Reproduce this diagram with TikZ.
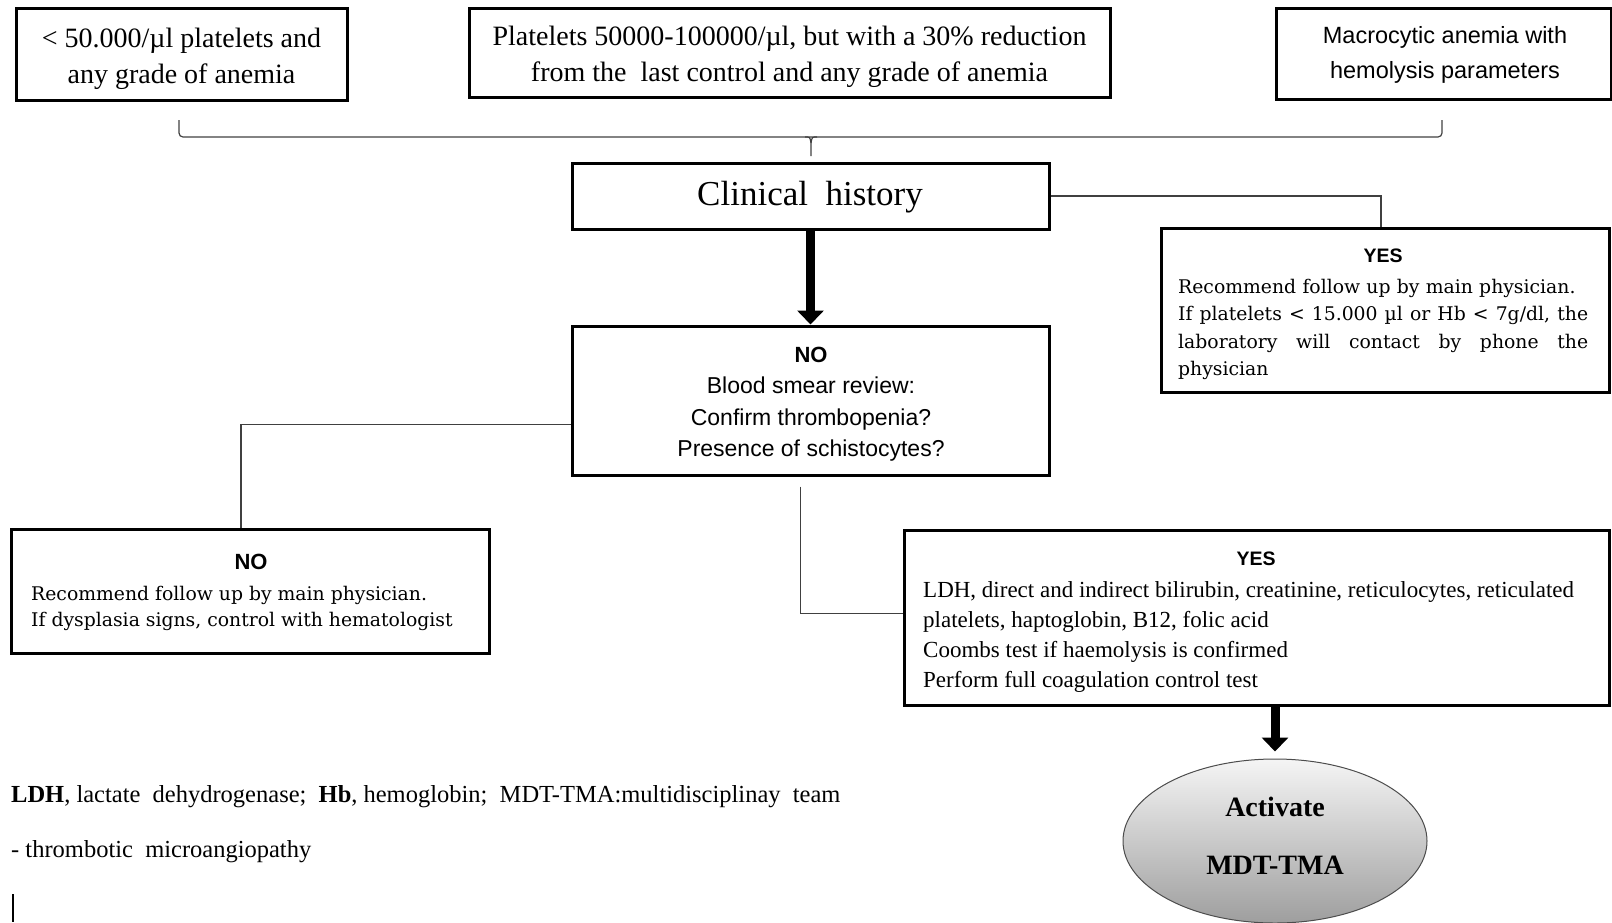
\documentclass[tikz,border=0pt]{standalone}
\usepackage{fontspec}
\setmainfont{Liberation Serif}
\newfontfamily\sansf{Liberation Sans}
\newfontfamily\slab{DejaVu Serif}
\usetikzlibrary{shapes.geometric,arrows.meta,calc}
\tikzset{
  box/.style={draw=black, line width=3pt, inner sep=0pt},
  conn/.style={draw=black!75, line width=1.3pt},
  thickarrow/.style={draw=black, line width=9pt, -{Triangle[width=26pt,length=14pt]}},
  txt/.style={inner sep=0pt},
}
\newcommand{\fullline}[1]{\makebox[410pt][s]{\spaceskip=.3333em plus 1fil\relax #1}}
\begin{document}
\begin{tikzpicture}[x=1pt,y=-1pt]
\useasboundingbox (0,0) rectangle (1612,922);
% boxes
\node[box, minimum width=331, minimum height=92] (b1) at (181.5,54) {};
\node[box, minimum width=641, minimum height=89] (b2) at (789.5,52.5) {};
\node[box, minimum width=335, minimum height=91] (b3) at (1443.5,53.5) {};
\node[box, minimum width=477, minimum height=66] (clin) at (810.5,196) {};
\node[box, minimum width=477, minimum height=149] (nobox) at (810.5,400.5) {};
\node[box, minimum width=448, minimum height=164] (yesr) at (1385,310) {};
\node[box, minimum width=478, minimum height=124] (nol) at (250,591) {};
\node[box, minimum width=705, minimum height=175] (yesb) at (1256.5,617.5) {};
\node[ellipse, draw=black!70, line width=1pt, minimum width=304, minimum height=164,
      top color=black!4, bottom color=black!38, inner sep=0pt] (ell) at (1275,841) {};
% texts
\node[txt, align=center, font=\fontsize{28}{36}\selectfont] (t1) at (181.5,59) {< 50.000/µl platelets and\\any grade of anemia};
\node[txt, align=center, font=\fontsize{28}{36}\selectfont] (t2) at (789.5,57) {Platelets 50000-100000/µl, but with a 30\% reduction\\from the\ \ last control and any grade of anemia};
\node[txt, align=center, font=\sansf\fontsize{23.5}{35}\selectfont] (t3) at (1445,55) {Macrocytic anemia with\\hemolysis parameters};
\node[txt, font=\fontsize{35}{40}\selectfont] (t4) at (810,197) {Clinical\ \ history};
\node[txt, align=center, font=\sansf\fontsize{23}{31.5}\selectfont] (t5) at (811,404) {{\fontsize{22}{24}\selectfont\bfseries NO}\\Blood smear review:\\Confirm thrombopenia?\\Presence of schistocytes?};
\node[txt, font=\sansf\bfseries\fontsize{19.5}{22}\selectfont] (t6) at (1383,256) {YES};
\node[txt, anchor=north west, text width=410, align=left, font=\slab\fontsize{18.8}{27.5}\selectfont] (t7) at (1178,279) {Recommend follow up by main physician.\\\fullline{If platelets < 15.000 µl or Hb < 7g/dl, the}\\\fullline{laboratory will contact by phone the}\\physician};
\node[txt, font=\sansf\bfseries\fontsize{22}{24}\selectfont] (t8) at (251,562) {NO};
\node[txt, anchor=north west, align=left, font=\slab\fontsize{18.8}{26}\selectfont] (t9) at (31,586) {Recommend follow up by main physician.\\If dysplasia signs, control with hematologist};
\node[txt, font=\sansf\bfseries\fontsize{19.5}{22}\selectfont] (t10) at (1256,559) {YES};
\node[txt, anchor=north west, align=left, font=\fontsize{23}{30.2}\selectfont] (t11) at (923,581) {LDH, direct and indirect bilirubin, creatinine, reticulocytes, reticulated\\platelets, haptoglobin, B12, folic acid\\Coombs test if haemolysis is confirmed\\Perform full coagulation control test};
\node[txt, align=center, font=\bfseries\fontsize{28}{58}\selectfont] (t12) at (1275,836) {Activate\\MDT-TMA};
\node[txt, anchor=base west, font=\fontsize{24.5}{24}\selectfont] (fn1) at (11,802) {\textbf{LDH}, lactate\ \ dehydrogenase;\ \ \textbf{Hb}, hemoglobin;\ \ MDT-TMA:multidisciplinay\ \ team};
\node[txt, anchor=base west, font=\fontsize{24.5}{24}\selectfont] (fn2) at (11,857) {- thrombotic\ \ microangiopathy};
\coordinate (cur1) at (13,894);
\coordinate (cur2) at (13,922);
\draw[line width=1.5pt] (cur1) -- (cur2);
% brace
\coordinate (brL) at (179,120);
\coordinate (brR) at (1442,120);
\coordinate (brM) at (811,137);
\coordinate (brT) at (811,156);
\draw[conn, line width=1.2pt, rounded corners=4pt] (brL) |- (brM) -| (brR);
\draw[conn, line width=1.2pt] ($(brM)+(-6,0)$) .. controls ($(brM)+(-1,0)$) .. ($(brM)+(0,6)$) -- (brT);
\draw[conn, line width=1.2pt] ($(brM)+(6,0)$) .. controls ($(brM)+(1,0)$) .. ($(brM)+(0,6)$);
% connectors
\draw[conn] (clin.east) -| ($(yesr.north)+(-4,0)$);
\draw[conn] ($(nobox.west)+(0,24)$) -| ($(nol.north)+(-9,0)$);
\draw[conn] ($(nobox.south)+(-10,10)$) |- ($(yesb.west)+(0,-4)$);
\draw[thickarrow] (clin.south) -- (nobox.north);
\draw[thickarrow, shorten >=7pt] (yesb.south -| ell.north) -- (ell.north);
\end{tikzpicture}
\end{document}
